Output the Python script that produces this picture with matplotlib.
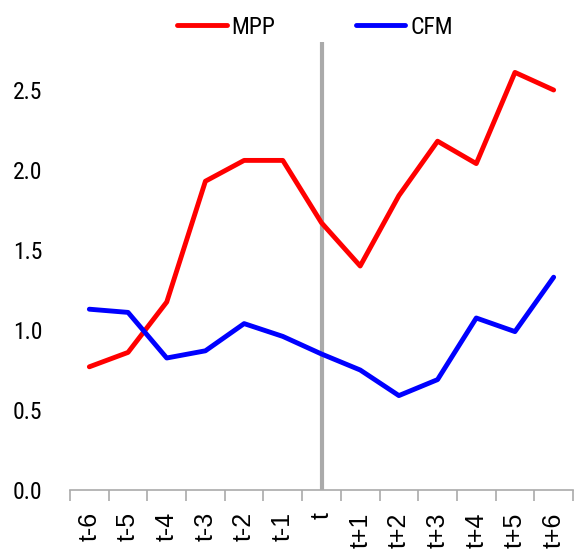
import matplotlib
matplotlib.use("Agg")
import matplotlib.pyplot as plt
import numpy as np

plt.rcParams["font.family"] = ["Roboto Condensed", "Barlow Condensed", "DejaVu Sans"]

# data
periods = ["t-6", "t-5", "t-4", "t-3", "t-2", "t-1", "t",
           "t+1", "t+2", "t+3", "t+4", "t+5", "t+6"]
mpp = [0.77, 0.86, 1.175, 1.93, 2.06, 2.06, 1.67,
       1.40, 1.84, 2.18, 2.04, 2.61, 2.50]
cfm = [1.13, 1.11, 0.825, 0.87, 1.04, 0.96, 0.85,
       0.75, 0.59, 0.69, 1.075, 0.99, 1.33]
yticks = [0.0, 0.5, 1.0, 1.5, 2.0, 2.5]

fig = plt.figure(figsize=(5.74, 5.52), dpi=100)
ax = fig.add_axes([70 / 574, 1 - 490 / 552, 503 / 574, 448 / 552])

x = np.arange(len(periods))
ax.plot(x, mpp, color="#ff0000", lw=3.5, label="MPP", solid_capstyle="round")
ax.plot(x, cfm, color="#0000ff", lw=3.5, label="CFM", solid_capstyle="round")
ax.axvline(x[periods.index("t")], color="#aaaaaa", lw=3, zorder=0)

ax.set_xlim(-0.5, len(periods) - 0.5)
ax.set_ylim(0, 2.8)
ax.set_yticks(yticks)
ax.set_yticklabels([f"{v:.1f}" for v in yticks], fontsize=17)
ax.tick_params(axis="y", length=0, pad=20)

ax.set_xticks(x)
ax.set_xticklabels(periods, rotation=90, fontsize=18,
                   family=["Liberation Sans", "DejaVu Sans"])
ax.set_xticks(np.arange(len(periods) + 1) - 0.5, minor=True)
ax.tick_params(axis="x", which="major", length=0, pad=16)
ax.tick_params(axis="x", which="minor", length=8, width=1.2, color="#aaaaaa")

for side in ["top", "right", "left"]:
    ax.spines[side].set_visible(False)
ax.spines["bottom"].set_color("#aaaaaa")
ax.spines["bottom"].set_linewidth(1.2)

fig.legend(loc="center", bbox_to_anchor=(315 / 574, 1 - 27 / 552), ncol=2,
           frameon=False, fontsize=17, handlelength=2.1, handletextpad=0.2,
           columnspacing=3.4)

fig.savefig("out.png")
